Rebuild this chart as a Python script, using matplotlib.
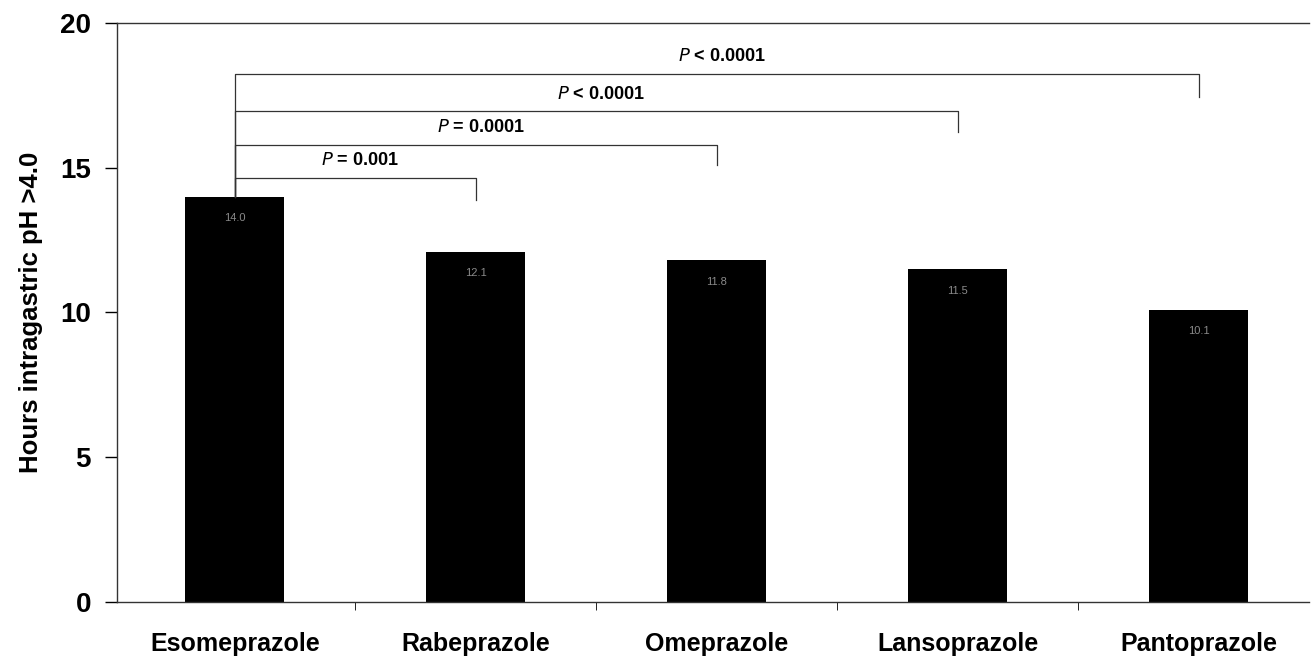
import matplotlib
matplotlib.use("Agg")
import numpy as np
import matplotlib.pyplot as plt

plt.rcParams["font.family"] = ["Liberation Sans", "DejaVu Sans"]

drugs = ["Esomeprazole", "Rabeprazole", "Omeprazole", "Lansoprazole", "Pantoprazole"]
hours = [14.0, 12.1, 11.8, 11.5, 10.1]
value_labels = ["14.0", "12.1", "11.8", "11.5", "10.1"]

# comparisons against esomeprazole: (target index, bracket height, right leg bottom, text)
comp_target = [1, 2, 3, 4]
comp_height = [14.65, 15.8, 16.95, 18.25]
comp_leg_end = [13.9, 15.1, 16.25, 17.45]
comp_text = ["$\\mathbf{\\mathit{P}}$ = 0.001", "$\\mathbf{\\mathit{P}}$ = 0.0001",
             "$\\mathbf{\\mathit{P}}$ < 0.0001", "$\\mathbf{\\mathit{P}}$ < 0.0001"]

fig = plt.figure(figsize=(13.12, 6.57), dpi=100)
ax = fig.add_axes([0.089, 0.084, 0.909, 0.881])

x = np.arange(len(drugs))
ax.bar(x, hours, width=0.41, color="black")

for i, (h, lab) in enumerate(zip(hours, value_labels)):
    ax.text(i, h - 0.75, lab, ha="center", va="center", fontsize=8, color="#8a8a8a")

for t, h, leg, txt in zip(comp_target, comp_height, comp_leg_end, comp_text):
    ax.plot([0, 0, t, t], [hours[0], h, h, leg], color="#333333", lw=0.9)
    ax.text(t / 2 + 0.02, h + 0.3, txt, ha="center", va="bottom",
            fontsize=13, fontweight="bold")

ax.set_xlim(-0.49, 4.46)
ax.set_ylim(0, 20)
ax.set_yticks([0, 5, 10, 15, 20])
ax.set_yticklabels(["0", "5", "10", "15", "20"], fontsize=20, fontweight="bold")
ax.set_xticks(x)
ax.set_xticklabels(drugs, fontsize=18, fontweight="bold")
ax.tick_params(axis="x", length=0, pad=22)
ax.set_xticks(x[:-1] + 0.5, minor=True)
ax.tick_params(axis="x", which="minor", length=6, direction="out")
ax.tick_params(axis="y", length=8.5, direction="out", width=1, pad=10)
ax.set_ylabel("Hours intragastric pH >4.0", fontsize=18.5, fontweight="bold", labelpad=12)

for s in ["left", "bottom", "top"]:
    ax.spines[s].set_color("#333333")
    ax.spines[s].set_linewidth(1.0)
ax.spines["right"].set_visible(False)

fig.savefig("out.png", dpi=100)
plt.close("all")
